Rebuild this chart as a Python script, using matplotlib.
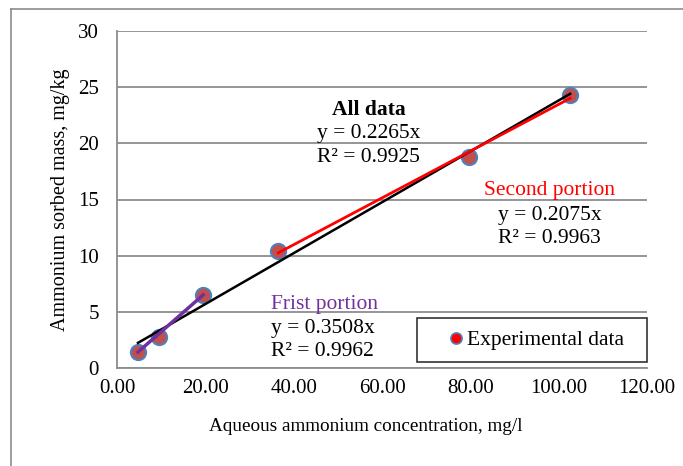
import numpy as np
import matplotlib.pyplot as plt
from matplotlib.lines import Line2D

conc = [4.75, 9.5, 19.5, 36.5, 79.7, 102.6]
sorbed = [1.42, 2.76, 6.5, 10.4, 18.8, 24.3]

xticks = [0, 20, 40, 60, 80, 100, 120]
yticks = [0, 5, 10, 15, 20, 25, 30]

plt.rcParams['font.family'] = ['Liberation Serif', 'DejaVu Serif']

fig = plt.figure(figsize=(6.83, 4.66), dpi=100)
ax = fig.add_axes([117/683, 1 - 368/466, (647-117)/683, (368-31)/466])

# outer chart frame (left and top edges visible)
fig.add_artist(Line2D([11/683, 11/683], [0, 1 - 9/466], color='#8c8c8c', lw=1.2))
fig.add_artist(Line2D([11/683, 1], [1 - 9/466, 1 - 9/466], color='#8c8c8c', lw=1.2))

# all-data trendline (least squares)
k, b = np.polyfit(conc, sorbed, 1)
xs = np.array([conc[0], conc[-1]])
ax.plot(xs, k * xs + b, color='black', lw=1.8, zorder=3)

# first portion
ax.plot([conc[0], conc[2]], [sorbed[0], sorbed[2]], color='#7030a0', lw=2.5, zorder=4)

# second portion
k2, b2 = np.polyfit(conc[3:], sorbed[3:], 1)
xs2 = np.array([conc[3], conc[-1]])
ax.plot(xs2, k2 * xs2 + b2, color='red', lw=2, zorder=4)

ax.scatter(conc, sorbed, s=120, facecolor='#c0504d', edgecolor='#4f81bd', lw=1.5, zorder=2)

ax.set_xlim(0, 120)
ax.set_ylim(0, 30)
ax.set_xticks(xticks)
ax.set_xticklabels([f'{v:.2f}' for v in xticks])
ax.set_yticks(yticks)
ax.tick_params(length=0, labelsize=15)
ax.tick_params(axis='x', pad=8)
ax.tick_params(axis='y', pad=13)
ax.grid(axis='y', color='#8c8c8c', lw=1.3)
ax.set_axisbelow(True)
for s in ['top', 'right']:
    ax.spines[s].set_visible(False)
for s in ['left', 'bottom']:
    ax.spines[s].set_color('#8c8c8c')
    ax.spines[s].set_linewidth(1.3)

ax.set_xlabel('Aqueous ammonium concentration, mg/l', fontsize=13.8)
ax.xaxis.set_label_coords(0.469, -0.148)
ax.set_ylabel('Ammonium sorbed mass, mg/kg', fontsize=14.5, labelpad=6)

fs = 15.5
ax.text(57, 23.0, 'All data', fontsize=fs, weight='bold', ha='center', va='center')
ax.text(57, 20.9, 'y = 0.2265x', fontsize=fs, ha='center', va='center')
ax.text(57, 18.75, 'R² = 0.9925', fontsize=fs, ha='center', va='center')

ax.text(98, 15.8, 'Second portion', fontsize=fs, color='red', ha='center', va='center')
ax.text(98, 13.6, 'y = 0.2075x', fontsize=fs, ha='center', va='center')
ax.text(98, 11.5, 'R² = 0.9963', fontsize=fs, ha='center', va='center')

ax.text(34.8, 5.65, 'Frist portion', fontsize=fs, color='#7030a0', ha='left', va='center')
ax.text(34.8, 3.55, 'y = 0.3508x', fontsize=fs, ha='left', va='center')
ax.text(34.8, 1.45, 'R² = 0.9962', fontsize=fs, ha='left', va='center')

handle = Line2D([], [], marker='o', ls='none', markersize=8, markerfacecolor='red',
                markeredgecolor='#4f81bd', markeredgewidth=1.2)
leg = ax.legend([handle], ['Experimental data  '], loc='lower right', bbox_to_anchor=(1.0, 0.018),
                fontsize=15.5, frameon=True, fancybox=False, handletextpad=-0.72,
                borderpad=0.55, handlelength=2.5, borderaxespad=0)
leg.get_frame().set_edgecolor('black')
leg.get_frame().set_linewidth(1.2)

fig.savefig('out.png', dpi=100)
